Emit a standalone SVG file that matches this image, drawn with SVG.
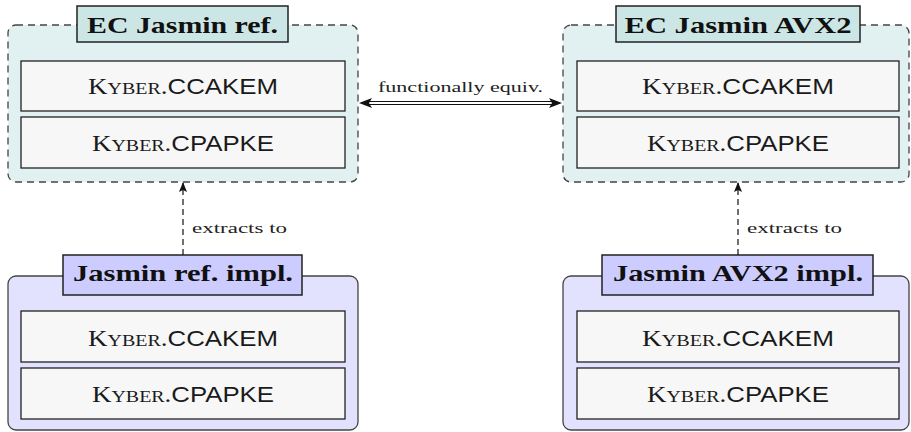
<svg xmlns="http://www.w3.org/2000/svg" width="911" height="432" viewBox="0 0 911 432">
<defs>
<style>
.ec{fill:#e1f0f0;stroke:#444;stroke-width:1.3;stroke-dasharray:7,5}
.jas{fill:#e2e2ff;stroke:#444;stroke-width:1.3}
.ect{fill:#cce6e6;stroke:#222;stroke-width:1.5}
.jt{fill:#ccccff;stroke:#222;stroke-width:1.5}
.inner{fill:#f7f7f7;stroke:#222;stroke-width:1.3}
.title{font-family:"Liberation Serif",serif;font-weight:bold;font-size:24px;fill:#111;text-anchor:middle}
.ky{font-family:"Liberation Serif",serif;font-size:23px;fill:#1a1a1a;text-anchor:middle}
.sc{font-size:17px}
.sf{font-family:"Liberation Sans",sans-serif;font-size:22px}
.lbl{font-family:"Liberation Serif",serif;font-size:15px;fill:#222}
.conn{stroke:#111;stroke-width:1.2;fill:none}
</style>
<marker id="ah" markerWidth="10" markerHeight="8" refX="9" refY="4" orient="auto" markerUnits="userSpaceOnUse">
<path d="M0,0 L10,4 L0,8 L2,4 Z" fill="#111"/>
</marker>
</defs>

<g id="ec-ref">
<rect class="ec" x="8" y="25" width="350" height="157" rx="8"/>
<rect class="inner" x="21" y="61" width="324" height="50"/>
<text class="ky" x="183" y="94" textLength="190" lengthAdjust="spacingAndGlyphs">K<tspan class="sc">YBER</tspan>.<tspan class="sf">CCAKEM</tspan></text>
<rect class="inner" x="21" y="117" width="324" height="51"/>
<text class="ky" x="183" y="151" textLength="182" lengthAdjust="spacingAndGlyphs">K<tspan class="sc">YBER</tspan>.<tspan class="sf">CPAPKE</tspan></text>
<rect class="ect" x="77" y="6" width="211" height="36"/>
<text class="title" x="182.5" y="32.5" textLength="191" lengthAdjust="spacingAndGlyphs">EC Jasmin ref.</text>
</g>

<g id="ec-avx2">
<rect class="ec" x="563" y="25" width="346" height="157" rx="8"/>
<rect class="inner" x="577" y="61" width="322" height="50"/>
<text class="ky" x="738" y="94" textLength="192" lengthAdjust="spacingAndGlyphs">K<tspan class="sc">YBER</tspan>.<tspan class="sf">CCAKEM</tspan></text>
<rect class="inner" x="577" y="117" width="322" height="51"/>
<text class="ky" x="738" y="151" textLength="182" lengthAdjust="spacingAndGlyphs">K<tspan class="sc">YBER</tspan>.<tspan class="sf">CPAPKE</tspan></text>
<rect class="ect" x="616" y="6" width="244" height="36"/>
<text class="title" x="738" y="32.5" textLength="227" lengthAdjust="spacingAndGlyphs">EC Jasmin AVX2</text>
</g>

<g id="jasmin-ref">
<rect class="jas" x="8" y="276" width="350" height="154" rx="8"/>
<rect class="inner" x="21" y="311" width="324" height="51"/>
<text class="ky" x="183" y="345.5" textLength="190" lengthAdjust="spacingAndGlyphs">K<tspan class="sc">YBER</tspan>.<tspan class="sf">CCAKEM</tspan></text>
<rect class="inner" x="21" y="368" width="324" height="51"/>
<text class="ky" x="183" y="402" textLength="182" lengthAdjust="spacingAndGlyphs">K<tspan class="sc">YBER</tspan>.<tspan class="sf">CPAPKE</tspan></text>
<rect class="jt" x="63" y="255" width="239" height="40"/>
<text class="title" x="183" y="281" textLength="220" lengthAdjust="spacingAndGlyphs">Jasmin ref. impl.</text>
</g>

<g id="jasmin-avx2">
<rect class="jas" x="563" y="276" width="346" height="154" rx="8"/>
<rect class="inner" x="577" y="311" width="322" height="51"/>
<text class="ky" x="738" y="345.5" textLength="192" lengthAdjust="spacingAndGlyphs">K<tspan class="sc">YBER</tspan>.<tspan class="sf">CCAKEM</tspan></text>
<rect class="inner" x="577" y="368" width="322" height="51"/>
<text class="ky" x="738" y="402" textLength="182" lengthAdjust="spacingAndGlyphs">K<tspan class="sc">YBER</tspan>.<tspan class="sf">CPAPKE</tspan></text>
<rect class="jt" x="602" y="255" width="271" height="40"/>
<text class="title" x="738" y="281" textLength="250" lengthAdjust="spacingAndGlyphs">Jasmin AVX2 impl.</text>
</g>

<g id="connectors">
<path class="conn" d="M183,255 L183,183" stroke-dasharray="6,4" marker-end="url(#ah)"/>
<text class="lbl" x="192" y="233" textLength="95" lengthAdjust="spacingAndGlyphs">extracts to</text>
<path class="conn" d="M738,255 L738,183" stroke-dasharray="6,4" marker-end="url(#ah)"/>
<text class="lbl" x="747" y="233" textLength="95" lengthAdjust="spacingAndGlyphs">extracts to</text>
<path class="conn" d="M367,101.5 L554,101.5 M367,104.5 L554,104.5"/>
<path d="M359,103 L372,98 L369,103 L372,108 Z" fill="#111"/>
<path d="M562,103 L549,98 L552,103 L549,108 Z" fill="#111"/>
<text class="lbl" x="460.5" y="92" text-anchor="middle" textLength="165" lengthAdjust="spacingAndGlyphs">functionally equiv.</text>
</g>
</svg>
